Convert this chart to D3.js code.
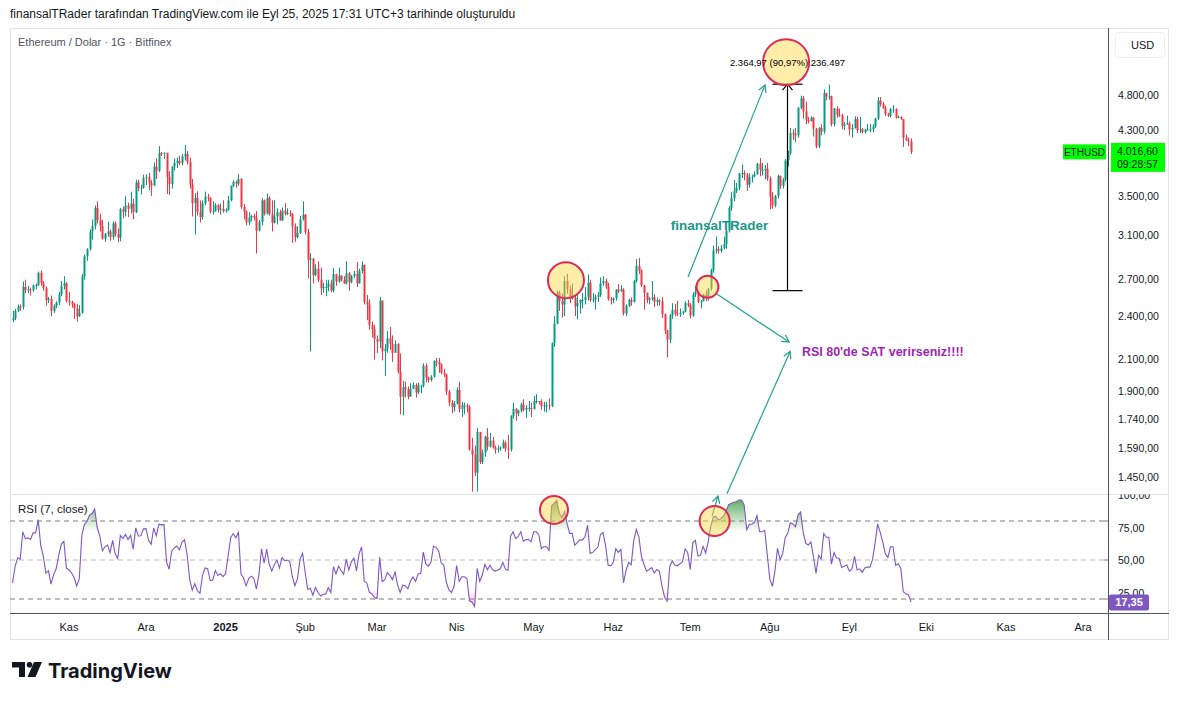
<!DOCTYPE html>
<html>
<head>
<meta charset="utf-8">
<script src="https://cdn.jsdelivr.net/npm/d3@7"></script>
<style>
  body { margin: 0; background: #fff; }
  svg text { font-family: "Liberation Sans", Arial, sans-serif; }
</style>
</head>
<body>
<svg id="chart" width="1180" height="701"></svg>
<script>
// ---- data (ETH/USD daily, Bitfinex) ----
const startDate = "2024-10-10";
const firstOpen = 2370;
// closes before the first visible candle, only used to warm up the RSI
const warmupCloses = [2630, 2695, 2675, 2655, 2600, 2450, 2360, 2350, 2415, 2415, 2440, 2420, 2440, 2370];

const closes = [
  // Oct 2024
  2385, 2440, 2475, 2470, 2630, 2605, 2610, 2605, 2645, 2645, 2750, 2665, 2620, 2525, 2535, 2440, 2480, 2505, 2570, 2640, 2660, 2520,
  // Nov
  2510, 2490, 2460, 2400, 2425, 2720, 2895, 2960, 3130, 3185, 3370, 3245, 3185, 3060, 3110, 3130, 3075, 3210, 3105, 3070,
  3355, 3330, 3395, 3360, 3415, 3325, 3650, 3585, 3590, 3705,
  // Dec
  3710, 3640, 3615, 3835, 3785, 4000, 3995, 4005, 3715, 3630, 3835, 3880, 3905, 3875, 3960, 3990, 3890, 3625, 3420, 3475,
  3330, 3275, 3420, 3490, 3480, 3330, 3335, 3400, 3350, 3360, 3335,
  // Jan 2025
  3350, 3450, 3610, 3655, 3635, 3690, 3380, 3330, 3220, 3270, 3285, 3265, 3140, 3225, 3450, 3310, 3475, 3305, 3215, 3280,
  3325, 3240, 3340, 3310, 3315, 3305, 3180, 3075, 3115, 3250, 3300,
  // Feb
  3125, 2865, 2875, 2730, 2785, 2690, 2620, 2630, 2630, 2660, 2600, 2740, 2675, 2725, 2690, 2660, 2745, 2670, 2720, 2740,
  2660, 2765, 2820, 2510, 2490, 2335, 2305, 2235,
  // Mar
  2215, 2520, 2150, 2170, 2240, 2200, 2140, 2200, 2015, 1865, 1920, 1910, 1865, 1910, 1935, 1890, 1930, 1930, 2055, 1980,
  1965, 1985, 2085, 2080, 2065, 2010, 2000, 1895, 1830, 1805, 1825,
  // Apr
  1905, 1795, 1815, 1815, 1805, 1580, 1555, 1470, 1670, 1520, 1565, 1645, 1595, 1625, 1590, 1580, 1585, 1590, 1615, 1585,
  1580, 1755, 1795, 1770, 1785, 1820, 1790, 1800, 1800, 1795,
  // May
  1840, 1840, 1835, 1810, 1815, 1815, 1810, 2205, 2345, 2585, 2515, 2490, 2680, 2610, 2545, 2545, 2475, 2500, 2525, 2525,
  2550, 2665, 2525, 2530, 2550, 2565, 2660, 2680, 2630, 2530, 2525,
  // Jun
  2540, 2610, 2595, 2610, 2420, 2480, 2525, 2510, 2680, 2810, 2770, 2645, 2580, 2525, 2535, 2545, 2510, 2525, 2515, 2415,
  2295, 2230, 2410, 2450, 2420, 2415, 2425, 2435, 2500, 2485,
  // Jul
  2405, 2570, 2590, 2510, 2515, 2570, 2540, 2615, 2770, 2950, 2960, 2945, 2970, 3010, 3140, 3370, 3475, 3550, 3590, 3755,
  3760, 3740, 3625, 3710, 3720, 3745, 3870, 3795, 3795, 3810, 3695,
  // Aug
  3490, 3395, 3500, 3725, 3610, 3680, 3910, 4000, 4260, 4250, 4230, 4610, 4750, 4560, 4440, 4420, 4470, 4320, 4085, 4330,
  4280, 4830, 4780, 4780, 4380, 4600, 4510, 4505, 4360, 4375, 4390,
  // Sep
  4310, 4330, 4450, 4300, 4310, 4275, 4305, 4310, 4310, 4350, 4460, 4715, 4665, 4605, 4525, 4500, 4590, 4590, 4470, 4480,
  4450, 4200, 4165, 4150, 4016.6
];

const highs = [
  2440, 2455, 2490, 2490, 2675, 2690, 2640, 2625, 2650, 2660, 2760, 2770, 2680, 2635, 2550, 2560, 2490, 2515, 2590, 2680, 2720, 2670,
  2590, 2520, 2500, 2495, 2485, 2740, 2910, 2970, 3150, 3250, 3395, 3440, 3310, 3245, 3115, 3225, 3150, 3230, 3230, 3160,
  3370, 3385, 3495, 3425, 3545, 3465, 3680, 3680, 3625, 3740,
  3745, 3760, 3675, 3885, 3935, 4090, 4015, 4010, 4005, 3780, 3840, 3935, 3945, 3970, 3990, 4105, 4030, 3945, 3690, 3530,
  3550, 3450, 3450, 3545, 3520, 3480, 3440, 3420, 3410, 3415, 3450,
  3365, 3500, 3615, 3675, 3670, 3745, 3700, 3410, 3345, 3325, 3300, 3310, 3335, 3245, 3475, 3460, 3525, 3495, 3450, 3450,
  3365, 3350, 3375, 3420, 3365, 3345, 3315, 3210, 3180, 3285, 3440,
  3305, 3155, 2925, 2880, 2825, 2850, 2795, 2665, 2690, 2690, 2690, 2790, 2735, 2795, 2730, 2720, 2850, 2755, 2730, 2765,
  2845, 2785, 2850, 2820, 2565, 2530, 2360, 2335,
  2260, 2550, 2520, 2200, 2290, 2320, 2260, 2225, 2205, 2135, 1960, 1955, 1925, 1945, 1950, 1945, 1950, 1935, 2070, 2070,
  1985, 1995, 2090, 2105, 2105, 2070, 2035, 2005, 1905, 1845, 1840,
  1920, 1955, 1835, 1830, 1825, 1815, 1640, 1600, 1690, 1670, 1580, 1650, 1690, 1665, 1645, 1600, 1600, 1595, 1630, 1625,
  1655, 1760, 1830, 1800, 1790, 1830, 1850, 1815, 1840, 1830,
  1870, 1880, 1840, 1850, 1835, 1835, 1855, 2210, 2400, 2600, 2600, 2575, 2720, 2740, 2640, 2660, 2560, 2570, 2530, 2580,
  2630, 2735, 2690, 2580, 2570, 2590, 2710, 2720, 2700, 2665, 2550,
  2545, 2610, 2655, 2645, 2620, 2490, 2535, 2545, 2690, 2870, 2880, 2780, 2645, 2585, 2550, 2680, 2570, 2545, 2530, 2550,
  2420, 2300, 2415, 2500, 2495, 2520, 2460, 2440, 2515, 2525,
  2500, 2585, 2640, 2600, 2525, 2575, 2600, 2620, 2785, 2995, 3080, 2990, 3000, 3080, 3160, 3390, 3540, 3680, 3645, 3760,
  3860, 3790, 3760, 3755, 3740, 3780, 3880, 3940, 3880, 3855, 3880,
  3720, 3540, 3510, 3740, 3730, 3700, 3930, 4030, 4330, 4310, 4330, 4620, 4790, 4785, 4700, 4480, 4490, 4480, 4330, 4340,
  4380, 4885, 4830, 4955, 4790, 4610, 4635, 4600, 4525, 4410, 4500,
  4420, 4380, 4490, 4485, 4480, 4330, 4320, 4380, 4385, 4380, 4470, 4770, 4770, 4695, 4640, 4540, 4610, 4650, 4605, 4500,
  4490, 4450, 4240, 4200, 4190
];

const lows = [
  2355, 2370, 2430, 2440, 2450, 2580, 2580, 2560, 2590, 2610, 2640, 2640, 2600, 2480, 2500, 2400, 2425, 2460, 2485, 2555, 2610, 2505,
  2480, 2465, 2380, 2360, 2395, 2420, 2690, 2855, 2950, 3050, 3150, 3210, 3130, 3050, 3030, 3080, 3040, 3050, 3080, 3025,
  3035, 3260, 3280, 3275, 3310, 3250, 3315, 3550, 3515, 3580,
  3620, 3560, 3500, 3610, 3690, 3770, 3965, 3930, 3520, 3510, 3580, 3790, 3820, 3855, 3850, 3910, 3860, 3580, 3280, 3100,
  3290, 3220, 3250, 3400, 3440, 3310, 3300, 3330, 3320, 3300, 3320,
  3320, 3340, 3440, 3595, 3590, 3610, 3360, 3250, 3190, 3190, 3230, 3240, 2920, 3130, 3190, 3290, 3300, 3290, 3130, 3210,
  3200, 3240, 3235, 3290, 3295, 3280, 3020, 3030, 3060, 3105, 3240,
  3100, 2700, 2150, 2660, 2720, 2670, 2565, 2580, 2555, 2595, 2590, 2585, 2640, 2665, 2675, 2655, 2650, 2600, 2660, 2705,
  2630, 2660, 2745, 2490, 2370, 2300, 2245, 2095,
  2140, 2170, 2090, 1990, 2140, 2160, 2080, 2140, 2005, 1765, 1760, 1860, 1850, 1870, 1910, 1860, 1880, 1885, 1920, 1950,
  1950, 1955, 1980, 2050, 2010, 2000, 1985, 1875, 1810, 1770, 1780,
  1820, 1775, 1750, 1765, 1775, 1575, 1385, 1455, 1385, 1510, 1510, 1545, 1575, 1590, 1585, 1560, 1565, 1575, 1585, 1570,
  1535, 1570, 1740, 1730, 1755, 1775, 1780, 1745, 1780, 1750,
  1790, 1825, 1820, 1790, 1780, 1775, 1790, 1805, 2180, 2340, 2440, 2390, 2400, 2575, 2500, 2530, 2400, 2375, 2420, 2460,
  2490, 2520, 2510, 2505, 2450, 2510, 2550, 2640, 2615, 2520, 2490,
  2500, 2520, 2580, 2590, 2405, 2400, 2470, 2480, 2505, 2665, 2740, 2630, 2450, 2500, 2490, 2520, 2470, 2480, 2480, 2385,
  2270, 2110, 2205, 2380, 2400, 2400, 2395, 2410, 2430, 2470,
  2385, 2395, 2550, 2500, 2460, 2515, 2515, 2520, 2600, 2750, 2920, 2920, 2930, 2960, 2965, 3120, 3340, 3440, 3530, 3560,
  3700, 3675, 3555, 3590, 3650, 3710, 3740, 3720, 3730, 3685, 3670,
  3355, 3360, 3375, 3470, 3575, 3580, 3660, 3835, 3980, 4170, 4140, 4200, 4590, 4460, 4380, 4390, 4420, 4215, 4060, 4065,
  4230, 4250, 4720, 4730, 4350, 4350, 4470, 4480, 4310, 4300, 4380,
  4230, 4200, 4320, 4260, 4260, 4255, 4255, 4290, 4270, 4270, 4330, 4440, 4630, 4600, 4495, 4480, 4475, 4540, 4460, 4465,
  4440, 4080, 4160, 4090, 3990
];

const priceTicks = [4800, 4300, 3500, 3100, 2700, 2400, 2100, 1900, 1740, 1590, 1450];
const rsiTicks = [100, 75, 50, 25];
const rsiBands = [80, 50, 20];
const monthDates = ["2024-11-01", "2024-12-01", "2025-01-01", "2025-02-01", "2025-03-01", "2025-04-01", "2025-05-01",
  "2025-06-01", "2025-07-01", "2025-08-01", "2025-09-01", "2025-10-01", "2025-11-01", "2025-12-01"];
const monthLabels = ["Kas", "Ara", "2025", "Şub", "Mar", "Nis", "May", "Haz", "Tem", "Ağu", "Eyl", "Eki", "Kas", "Ara"];

const lastPrice = 4016.60;
const lastRsi = 17.35;
const countdown = "09:28:57";
const measureLow = 2600, measureHigh = 4965;
const measureDate = "2025-08-07T17:00:00Z";

// drawings on the chart (time / price anchors)
const priceCircles = [
  { t: "2025-08-07T08:00:00Z", p: 5320, r: 23 },
  { t: "2025-05-13T14:00:00Z", p: 2687, r: 18 },
  { t: "2025-07-07T17:00:00Z", p: 2631, r: 11 }
];
const rsiCircles = [
  { t: "2025-05-08T22:00:00Z", v: 88.5, r: 14 },
  { t: "2025-07-10T12:00:00Z", v: 80, r: 15 }
];
const priceArrows = [
  { t1: "2025-06-30T03:00:00Z", p1: 2714, t2: "2025-07-30T03:00:00Z", p2: 4953 },
  { t1: "2025-07-10T16:00:00Z", p1: 2582, t2: "2025-08-08T12:00:00Z", p2: 2213 },
  { t1: "2025-07-15T07:00:00Z", p1: 1376, t2: "2025-08-08T22:00:00Z", p2: 2149 }
];
const rsiArrows = [
  { t1: "2025-07-09T12:00:00Z", v1: 83.8, t2: "2025-07-11T19:00:00Z", v2: 100 }
];

// ---- setup ----
const svg = d3.select("#chart");
const padL = 10, padR = 1108, paneTop = 28, paneSep = 494, paneBot = 613, frameR = 1169, frameB = 640;
const up = "#089981", down = "#f23645", teal = "#22a391";

const tr = d3.formatLocale({ decimal: ",", thousands: ".", grouping: [3], currency: ["", ""] });
const fmt = tr.format(",.2f");

const start = new Date(startDate + "T00:00:00Z");
const candles = closes.map((c, i) => {
  const o = i === 0 ? firstOpen : closes[i - 1];
  return { date: d3.utcDay.offset(start, i), o: o, c: c,
    h: Math.max(highs[i], o, c), l: Math.min(lows[i], o, c) };
});

// RSI(7) on close, Wilder smoothing
const allCloses = warmupCloses.concat(closes);
const len = 7;
const rsiAll = [];
let avgU = 0, avgD = 0;
for (let i = 1; i < allCloses.length; i++) {
  const ch = allCloses[i] - allCloses[i - 1];
  const u = Math.max(ch, 0), d = Math.max(-ch, 0);
  if (i <= len) {
    avgU += u / len; avgD += d / len;
  } else {
    avgU = (avgU * (len - 1) + u) / len;
    avgD = (avgD * (len - 1) + d) / len;
  }
  rsiAll[i] = i >= len ? (avgD === 0 ? 100 : 100 - 100 / (1 + avgU / avgD)) : null;
}
const rsiData = candles.map((d, i) => ({ date: d.date, v: rsiAll[i + warmupCloses.length] }));

const x = d3.scaleUtc()
  .domain([new Date("2024-11-01T00:00:00Z"), new Date("2025-11-01T00:00:00Z")])
  .range([69, 1006]);
const y = d3.scaleLog().domain([1450, 4800]).range([477, 95]);
const yr = d3.scaleLinear().domain([0, 100]).range([625, 495]);
const T = s => x(new Date(s));

const defs = svg.append("defs");
defs.append("clipPath").attr("id", "clip-price")
  .append("rect").attr("x", padL).attr("y", paneTop).attr("width", padR - padL).attr("height", paneSep - paneTop);
defs.append("clipPath").attr("id", "clip-rsi")
  .append("rect").attr("x", padL).attr("y", paneSep).attr("width", padR - padL).attr("height", paneBot - paneSep);
defs.append("clipPath").attr("id", "clip-rsi-axis")
  .append("rect").attr("x", padR).attr("y", paneSep + 0.5).attr("width", frameR - padR).attr("height", paneBot - paneSep);

const gUp = defs.append("linearGradient").attr("id", "ob").attr("gradientUnits", "userSpaceOnUse")
  .attr("x1", 0).attr("x2", 0).attr("y1", yr(100)).attr("y2", yr(72));
gUp.append("stop").attr("offset", 0).attr("stop-color", "#43a047").attr("stop-opacity", 0.95);
gUp.append("stop").attr("offset", 1).attr("stop-color", "#43a047").attr("stop-opacity", 0);
const gDn = defs.append("linearGradient").attr("id", "os").attr("gradientUnits", "userSpaceOnUse")
  .attr("x1", 0).attr("x2", 0).attr("y1", yr(0)).attr("y2", yr(28));
gDn.append("stop").attr("offset", 0).attr("stop-color", "#e91e63").attr("stop-opacity", 0.55);
gDn.append("stop").attr("offset", 1).attr("stop-color", "#e91e63").attr("stop-opacity", 0);

// ---- header ----
svg.append("text").attr("x", 10).attr("y", 18)
  .attr("font-size", 12).attr("fill", "#131722")
  .text("finansalTRader tarafından TradingView.com ile Eyl 25, 2025 17:31 UTC+3 tarihinde oluşturuldu");

// ---- frame ----
svg.append("rect").attr("x", padL + 0.5).attr("y", paneTop + 0.5)
  .attr("width", frameR - padL - 1).attr("height", frameB - paneTop - 1)
  .attr("fill", "none").attr("stroke", "#e0e3eb");
svg.append("line").attr("x1", padL).attr("x2", frameR).attr("y1", paneSep + 0.5).attr("y2", paneSep + 0.5)
  .attr("stroke", "#e0e3eb");
svg.append("line").attr("x1", padR + 0.5).attr("x2", padR + 0.5).attr("y1", paneTop).attr("y2", frameB)
  .attr("stroke", "#50535e");
svg.append("line").attr("x1", padL).attr("x2", frameR).attr("y1", paneBot + 0.5).attr("y2", paneBot + 0.5)
  .attr("stroke", "#50535e");

svg.append("text").attr("x", 18).attr("y", 46).attr("font-size", 11).attr("fill", "#50535e")
  .text("Ethereum / Dolar · 1G · Bitfinex");

// ---- candles ----
const gc = svg.append("g").attr("clip-path", "url(#clip-price)");
gc.selectAll("line.wick").data(candles).join("line")
  .attr("class", "wick")
  .attr("x1", d => Math.round(x(d.date)) + 0.5).attr("x2", d => Math.round(x(d.date)) + 0.5)
  .attr("y1", d => y(d.h)).attr("y2", d => y(d.l))
  .attr("stroke", d => d.c >= d.o ? up : down).attr("stroke-width", 1);
gc.selectAll("rect.body").data(candles).join("rect")
  .attr("class", "body")
  .attr("x", d => Math.round(x(d.date)) - 0.5).attr("width", 2)
  .attr("y", d => y(Math.max(d.o, d.c)))
  .attr("height", d => Math.max(1, Math.abs(y(d.o) - y(d.c))))
  .attr("fill", d => d.c >= d.o ? up : down);

// ---- price axis ----
svg.append("g").selectAll("text").data(priceTicks).join("text")
  .attr("x", 1118).attr("y", d => y(d) + 4)
  .attr("font-size", 10.5).attr("fill", "#131722")
  .text(d => fmt(d));

svg.append("rect").attr("x", 1115.5).attr("y", 32.5).attr("width", 49).attr("height", 25).attr("rx", 3)
  .attr("fill", "#fff").attr("stroke", "#eceef2");
svg.append("text").attr("x", 1131).attr("y", 49).attr("font-size", 11).attr("fill", "#131722").text("USD");

// last price tags
const py = y(lastPrice);
svg.append("rect").attr("x", 1063).attr("y", py - 7.5).attr("width", 43).attr("height", 15)
  .attr("fill", "#00ff00");
svg.append("text").attr("x", 1084.5).attr("y", py + 4).attr("text-anchor", "middle")
  .attr("font-size", 10).attr("fill", "#131722").text("ETHUSD");
svg.append("rect").attr("x", 1111).attr("y", py - 9).attr("width", 54).attr("height", 29)
  .attr("fill", "#00ff00");
svg.append("text").attr("x", 1117).attr("y", py + 3).attr("font-size", 10.5).attr("fill", "#131722")
  .text(fmt(lastPrice));
svg.append("text").attr("x", 1117).attr("y", py + 16).attr("font-size", 10.5).attr("fill", "#131722")
  .text(countdown);

// ---- drawings on price pane ----
const gd = svg.append("g").attr("clip-path", "url(#clip-price)");

// measurement
const mx = Math.round(T(measureDate)) + 0.5;
gd.append("line").attr("x1", mx).attr("x2", mx).attr("y1", y(measureLow)).attr("y2", y(measureHigh))
  .attr("stroke", "#000").attr("stroke-width", 1.2);
[measureLow, measureHigh].forEach(p => {
  gd.append("line").attr("x1", mx - 15).attr("x2", mx + 15).attr("y1", y(p)).attr("y2", y(p))
    .attr("stroke", "#000").attr("stroke-width", 1.2);
});
gd.append("path")
  .attr("d", `M${mx - 5},${y(measureHigh) + 6} L${mx},${y(measureHigh)} L${mx + 5},${y(measureHigh) + 6}`)
  .attr("fill", "none").attr("stroke", "#000").attr("stroke-width", 1.2);

function arrow(g, x1, y1, x2, y2) {
  g.append("line").attr("x1", x1).attr("y1", y1).attr("x2", x2).attr("y2", y2)
    .attr("stroke", teal).attr("stroke-width", 1.2);
  const a = Math.atan2(y2 - y1, x2 - x1), s = 8, w = 0.5;
  g.append("path")
    .attr("d", `M${x2 - s * Math.cos(a - w)},${y2 - s * Math.sin(a - w)} L${x2},${y2} L${x2 - s * Math.cos(a + w)},${y2 - s * Math.sin(a + w)}`)
    .attr("fill", "none").attr("stroke", teal).attr("stroke-width", 1.2);
}
priceArrows.forEach(d => arrow(gd, T(d.t1), y(d.p1), T(d.t2), y(d.p2)));

gd.selectAll("circle").data(priceCircles).join("circle")
  .attr("cx", d => T(d.t)).attr("cy", d => y(d.p)).attr("r", d => d.r)
  .attr("fill", "rgba(255, 214, 64, 0.45)").attr("stroke", "#de2a55").attr("stroke-width", 2);

gd.append("text").attr("x", mx).attr("y", y(5257)).attr("text-anchor", "middle")
  .attr("font-size", 9.5).attr("fill", "#000").text("2.364,97 (90,97%) 236.497");

gd.append("text").attr("x", T("2025-06-23T10:00:00Z")).attr("y", y(3140))
  .attr("font-size", 13.5).attr("font-weight", "bold").attr("fill", "#1e9688").text("finansalTRader");
gd.append("text").attr("x", T("2025-08-13T12:00:00Z")).attr("y", y(2121))
  .attr("font-size", 12.5).attr("font-weight", "bold").attr("fill", "#9b27af").text("RSI 80'de SAT verirseniz!!!!");

// ---- RSI pane ----
const gr = svg.append("g").attr("clip-path", "url(#clip-rsi)");
const rsiPts = rsiData.filter(d => d.v != null);
gr.append("path").datum(rsiPts)
  .attr("d", d3.area().x(d => x(d.date)).y0(yr(72)).y1(d => yr(Math.max(d.v, 72))))
  .attr("fill", "url(#ob)");
gr.append("path").datum(rsiPts)
  .attr("d", d3.area().x(d => x(d.date)).y0(yr(28)).y1(d => yr(Math.min(d.v, 28))))
  .attr("fill", "url(#os)");

gr.selectAll("line.band").data(rsiBands).join("line")
  .attr("class", "band")
  .attr("x1", padL).attr("x2", padR).attr("y1", d => yr(d)).attr("y2", d => yr(d))
  .attr("stroke", "#787b86").attr("stroke-opacity", d => d === 50 ? 0.5 : 1)
  .attr("stroke-dasharray", "5,4");

gr.append("path").datum(rsiPts)
  .attr("d", d3.line().x(d => x(d.date)).y(d => yr(d.v)))
  .attr("fill", "none").attr("stroke", "#7e57c2").attr("stroke-width", 1.1);

rsiArrows.forEach(d => arrow(gr, T(d.t1), yr(d.v1), T(d.t2), yr(d.v2) + 1));
gr.selectAll("circle").data(rsiCircles).join("circle")
  .attr("cx", d => T(d.t)).attr("cy", d => yr(d.v)).attr("r", d => d.r)
  .attr("fill", "rgba(255, 214, 64, 0.45)").attr("stroke", "#de2a55").attr("stroke-width", 2);

svg.append("text").attr("x", 18).attr("y", 513).attr("font-size", 11.5).attr("fill", "#131722")
  .text("RSI (7, close)");

// RSI axis
const gra = svg.append("g").attr("clip-path", "url(#clip-rsi-axis)");
gra.selectAll("text").data(rsiTicks).join("text")
  .attr("x", 1118).attr("y", d => yr(d) + 4)
  .attr("font-size", 10.5).attr("fill", "#131722")
  .text(d => fmt(d));
svg.selectAll("line.rtick").data(rsiBands).join("line")
  .attr("class", "rtick")
  .attr("x1", padR - 4).attr("x2", padR).attr("y1", d => yr(d)).attr("y2", d => yr(d))
  .attr("stroke", "#787b86");
svg.append("rect").attr("x", 1109).attr("y", yr(lastRsi) - 8).attr("width", 40).attr("height", 16).attr("rx", 2)
  .attr("fill", "#7e57c2");
svg.append("text").attr("x", 1129).attr("y", yr(lastRsi) + 4).attr("text-anchor", "middle")
  .attr("font-size", 11).attr("font-weight", "bold").attr("fill", "#fff").text(fmt(lastRsi));

// ---- time axis ----
svg.append("g").selectAll("text").data(monthDates).join("text")
  .attr("x", d => T(d + "T00:00:00Z")).attr("y", 631)
  .attr("text-anchor", "middle").attr("font-size", 11)
  .attr("font-weight", (d, i) => monthLabels[i] === "2025" ? "bold" : "normal")
  .attr("fill", "#131722")
  .text((d, i) => monthLabels[i]);

// ---- TradingView logo ----
const logo = svg.append("g").attr("transform", "translate(12,662)").attr("fill", "#131722");
logo.append("path").attr("d", "M0,0 H13 V15 H7 V5.5 H0 Z");
logo.append("circle").attr("cx", 17.5).attr("cy", 2.8).attr("r", 2.8);
logo.append("path").attr("d", "M22,0 H30 L23.5,15 H15.5 Z");
svg.append("text").attr("x", 48).attr("y", 678).attr("font-size", 20).attr("font-weight", "bold")
  .style("font-family", "Inter, 'Liberation Sans', sans-serif").attr("fill", "#131722")
  .text("TradingView");
</script>
</body>
</html>
